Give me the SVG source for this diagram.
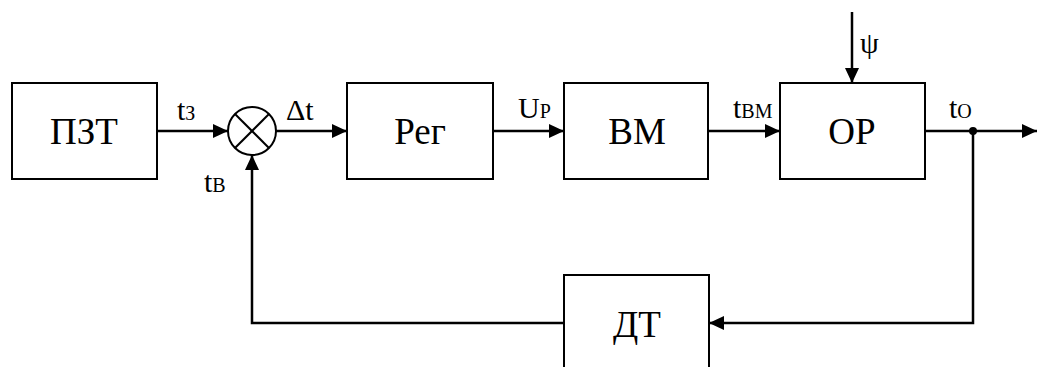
<svg xmlns="http://www.w3.org/2000/svg" width="1037" height="367" viewBox="0 0 1037 367">
<defs>
<marker id="ah" markerWidth="15" markerHeight="14" refX="15" refY="7" orient="auto" markerUnits="userSpaceOnUse">
<path d="M0,0 L15,7 L0,14 Z" fill="#000"/>
</marker>
<style>
.box{fill:#fff;stroke:#000;stroke-width:2}
.ln{fill:none;stroke:#000;stroke-width:2.5}
text{font-family:'Liberation Serif','Times New Roman',serif;fill:#000}
.big{font-size:37px;text-anchor:middle}
.lab{font-size:30px}
.sub{font-size:20px}
</style>
</defs>
<rect width="1037" height="367" fill="#fff"/>
<g id="connectors">
<line class="ln" x1="157" y1="131" x2="228" y2="131" marker-end="url(#ah)"/>
<line class="ln" x1="276" y1="131" x2="347" y2="131" marker-end="url(#ah)"/>
<line class="ln" x1="493" y1="131" x2="564" y2="131" marker-end="url(#ah)"/>
<line class="ln" x1="708" y1="131" x2="780" y2="131" marker-end="url(#ah)"/>
<line class="ln" x1="852" y1="12" x2="852" y2="83" marker-end="url(#ah)"/>
<line class="ln" x1="925" y1="131" x2="1037" y2="131" marker-end="url(#ah)"/>
<polyline class="ln" points="973,131 973,323 709,323" marker-end="url(#ah)"/>
<polyline class="ln" points="564,323 252,323 252,155" marker-end="url(#ah)"/>
<circle cx="973" cy="131" r="4" fill="#000"/>
</g>
<g id="sum">
<circle cx="252" cy="131" r="24" fill="#fff" stroke="#000" stroke-width="2"/>
<line x1="235" y1="114" x2="269" y2="148" stroke="#000" stroke-width="2"/>
<line x1="269" y1="114" x2="235" y2="148" stroke="#000" stroke-width="2"/>
</g>
<g id="pzt"><rect class="box" x="12" y="83" width="145" height="96"/><text class="big" x="84" y="144">ПЗТ</text></g>
<g id="reg"><rect class="box" x="347" y="83" width="146" height="96"/><text class="big" x="420" y="144">Рег</text></g>
<g id="bm"><rect class="box" x="564" y="83" width="144" height="96"/><text class="big" x="637" y="144">ВМ</text></g>
<g id="op"><rect class="box" x="780" y="83" width="145" height="96"/><text class="big" x="852" y="144">ОР</text></g>
<g id="dt"><rect class="box" x="564" y="275" width="145" height="100"/><text class="big" x="637" y="337">ДТ</text></g>
<g id="labels">
<text class="lab" x="177" y="120">t<tspan class="sub">З</tspan></text>
<text class="lab" x="286" y="120">Δt</text>
<text class="lab" x="204" y="192">t<tspan class="sub">В</tspan></text>
<text class="lab" x="518" y="118">U<tspan class="sub">Р</tspan></text>
<text class="lab" x="733" y="118">t<tspan class="sub">ВМ</tspan></text>
<text class="lab" x="860" y="53">ψ</text>
<text class="lab" x="949" y="118">t<tspan class="sub">О</tspan></text>
</g>
</svg>
